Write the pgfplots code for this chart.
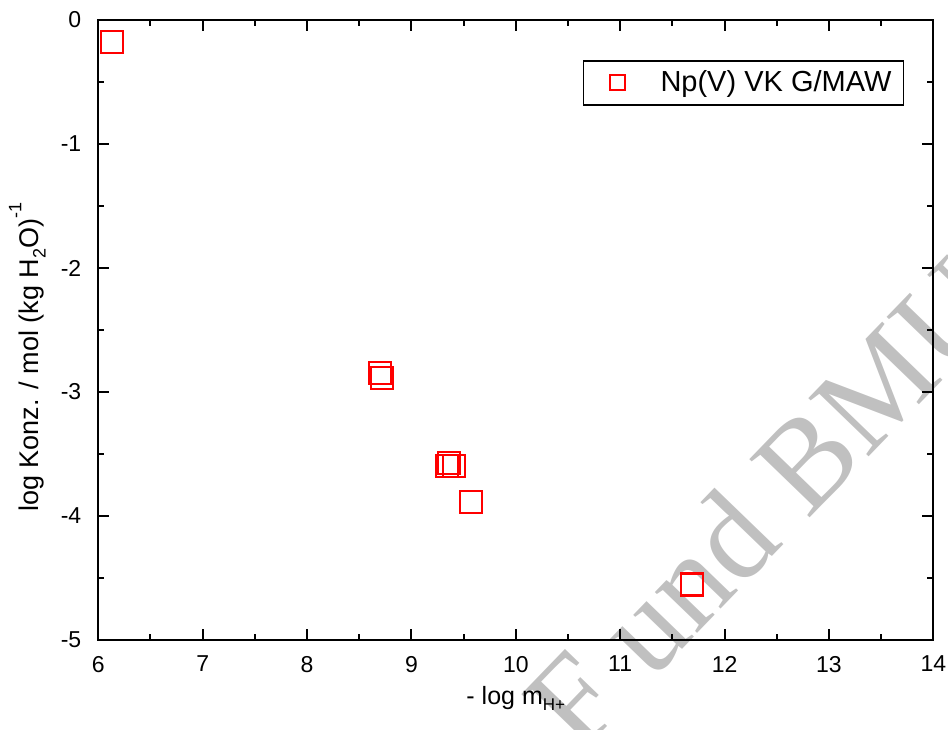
\documentclass[border=0pt]{standalone}
\usepackage{pgfplots}
\pgfplotsset{compat=1.18}
\usepackage{fontspec}
\setmainfont{Liberation Sans}
\newfontfamily\wmfont{Liberation Serif}
\definecolor{wmgray}{RGB}{192,192,192}
\begin{document}
\begin{tikzpicture}
\useasboundingbox (-49.15pt,-44.5pt) rectangle (424.85pt,320pt);
\node[overlay, rotate=46, text=wmgray, font=\wmfont\fontsize{64}{68}\selectfont, inner sep=0pt] at (332.5pt,68.5pt) {F und BMU};
\begin{axis}[
  at={(0,0)}, anchor=south west,
  scale only axis, width=417.5pt, height=310pt,
  xmin=6, xmax=14, ymin=-5, ymax=0,
  xtick={6,...,14}, xticklabels={6,7,8,9,10,11,12,13,14},
  ytick={-5,...,0}, yticklabels={-5,-4,-3,-2,-1,0},
  minor x tick num=1, minor y tick num=1,
  tick align=inside,
  major tick length=5.5pt, minor tick length=3pt,
  axis line style={line width=1pt},
  every tick/.style={black, line width=1pt},
  tick label style={font=\fontsize{11.5}{13}\selectfont},
  xticklabel style={yshift=-4.5pt},
  yticklabel style={xshift=-5pt},
  xlabel style={font=\fontsize{12.5}{15}\selectfont},
  ylabel style={font=\fontsize{13.5}{16}\selectfont, at={(axis description cs:-0.085,0.456)}, anchor=center},
  xlabel={- log m\raisebox{-0.5ex}{\fontsize{8.5}{9}\selectfont H+}},
  ylabel={log Konz. / mol (kg H\raisebox{-0.5ex}{\fontsize{9}{9}\selectfont 2}O)\raisebox{1.2ex}{\fontsize{9}{9}\selectfont -1}},
  legend style={at={(0.965,0.935)}, anchor=north east, draw=black, line width=0.6pt,
    font=\fontsize{14.5}{16}\selectfont, inner xsep=4pt, inner ysep=3pt},
  legend image code/.code={\draw[red, line width=1pt] (9.25pt,-3.75pt) rectangle (16.75pt,3.75pt); \path (0pt,0pt) (32pt,0pt);},
]
\addplot[only marks, mark=square, mark size=5.5pt, red, mark options={line width=1pt}] coordinates {
(6.13,-0.18)
(8.70,-2.85)
(8.715,-2.89)
(9.34,-3.60)
(9.36,-3.57)
(9.41,-3.60)
(9.57,-3.89)
(11.686,-4.56)
(11.69,-4.55)
};
\addlegendentry{Np(V) VK G/MAW}
\end{axis}
\end{tikzpicture}
\end{document}
